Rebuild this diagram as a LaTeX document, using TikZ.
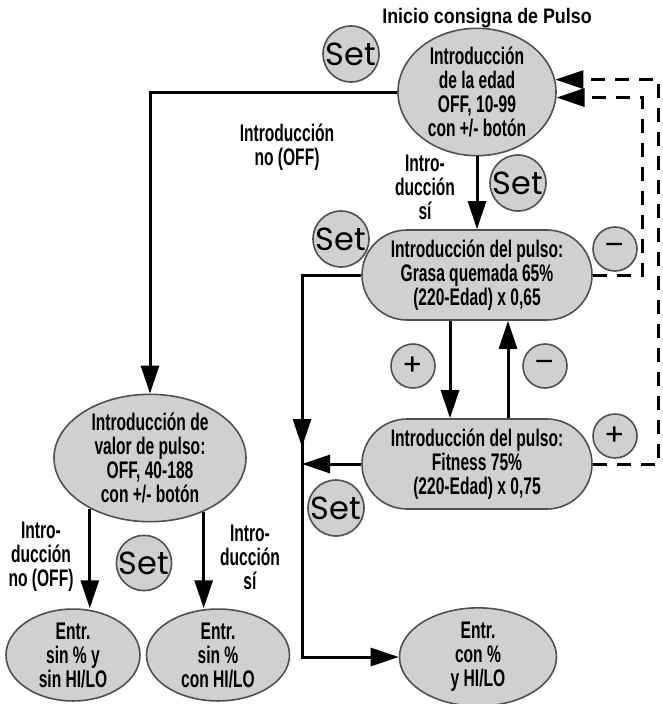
\documentclass[tikz,border=0pt]{standalone}
\usepackage{fontspec}
\setmainfont{Liberation Sans}
\newfontfamily\condfont[FakeStretch=0.65, UprightFont={* Bold}, BoldFont={* Bold}]{Liberation Sans}
\newfontfamily\titlefont[FakeStretch=0.85, UprightFont={* Bold}]{Liberation Sans}
\newfontfamily\setfont{Poppins}
\usetikzlibrary{arrows.meta,shapes.geometric,shapes.misc}
\definecolor{boxgray}{RGB}{208,208,208}
\definecolor{edgegray}{RGB}{80,80,80}

\begin{document}
\begin{tikzpicture}[x=1pt, y=-1pt,
    base/.style={fill=boxgray, draw=edgegray, line width=1.6pt, align=center, inner sep=0pt,
      font=\condfont\fontsize{24}{24}\selectfont},
    oval/.style={base, ellipse},
    pill/.style={base, rounded rectangle, minimum width=230pt, minimum height=90pt},
    btn/.style={fill=boxgray, draw=edgegray, line width=1.6pt, circle, inner sep=0pt,
      minimum size=44pt, font=\setfont\fontsize{30}{30}\selectfont},
    setbtn/.style={btn, minimum size=56pt, font=\setfont\fontsize{32}{32}\selectfont},
    lbl/.style={align=center, font=\condfont\fontsize{24}{24}\selectfont},
    flow/.style={line width=3pt},
    dashflow/.style={flow, dash pattern=on 14pt off 10pt},
    >={Triangle[length=28pt,width=18pt]}]
    \useasboundingbox (0,0) rectangle (662,704);

    \node[font=\titlefont\fontsize{21}{22}\selectfont] (title) at (487,18) {Inicio consigna de Pulso};
    \node[oval, minimum width=158pt, minimum height=110pt] (age) at (477,92)
      {Introducción\\de la edad\\OFF, 10-99\\con +/- botón};
    \node[pill] (grasa) at (477,275) {Introducción del pulso:\\Grasa quemada 65\%\\(220-Edad) x 0,65};
    \node[pill] (fitness) at (477,464) {Introducción del pulso:\\Fitness 75\%\\(220-Edad) x 0,75};
    \node[oval, minimum width=192pt, minimum height=110pt] (valor) at (150,458)
      {Introducción de\\valor de pulso:\\OFF, 40-188\\con +/- botón};
    \node[oval, minimum width=134pt, minimum height=90pt] (sinsin) at (73,655) {Entr.\\sin \% y\\sin HI/LO};
    \node[oval, minimum width=143pt, minimum height=90pt] (sincon) at (218,655) {Entr.\\sin \%\\con HI/LO};
    \node[oval, minimum width=157pt, minimum height=90pt] (conpct) at (478,657) {Entr.\\con \%\\y HI/LO};

    % buttons
    \node[setbtn] (setA) at (351,54) {Set};
    \node[setbtn] (setB) at (518,183) {Set};
    \node[setbtn] (setC) at (341,239) {Set};
    \node[setbtn] (setD) at (336,508) {Set};
    \node[setbtn, minimum size=52pt] (setE) at (144,563) {Set};
    \node[btn] (plusA) at (413,366) {+};
    \node[btn] (minusA) at (545,366) {–};
    \node[btn] (minusR) at (615,249) {–};
    \node[btn] (plusR) at (615,436) {+};

    % labels
    \node[lbl] (labNo) at (287,147) {Introducción\\no (OFF)};
    \node[lbl] (labSi) at (425,187) {Intro-\\ducción\\sí};
    \node[lbl] (labNoB) at (41,557) {Intro-\\ducción\\no (OFF)};
    \node[lbl] (labSiB) at (250,557) {Intro-\\ducción\\sí};

    % connectors
    \draw[flow, ->] (age.west) -| (valor.north);
    \draw[flow, ->] (age) -- (grasa);
    \draw[flow, ->] ([xshift=-27pt]grasa.south) -- ([xshift=-27pt]fitness.north);
    \draw[flow, ->] ([xshift=31pt]fitness.north) -- ([xshift=31pt]grasa.south);
    \coordinate (vline) at (302,275);
    \draw[flow, ->] (grasa.west) -- (vline) |- (conpct.west);
    \draw[flow, ->] (vline) -- ([yshift=17pt]vline |- fitness.west);
    \draw[flow, ->] (fitness.west) -- (fitness.west -| vline);
    \draw[flow, ->] (valor.220) -- (valor.220 |- sinsin.north);
    \draw[flow, ->] (valor.-45) -- (valor.-45 |- sincon.north);
    \draw[dashflow, ->] (grasa.east) -- ++(50,0) |- (age.-4);
    \draw[dashflow, ->] (fitness.east) -- ++(66,0) |- (age.9);
\end{tikzpicture}
\end{document}
